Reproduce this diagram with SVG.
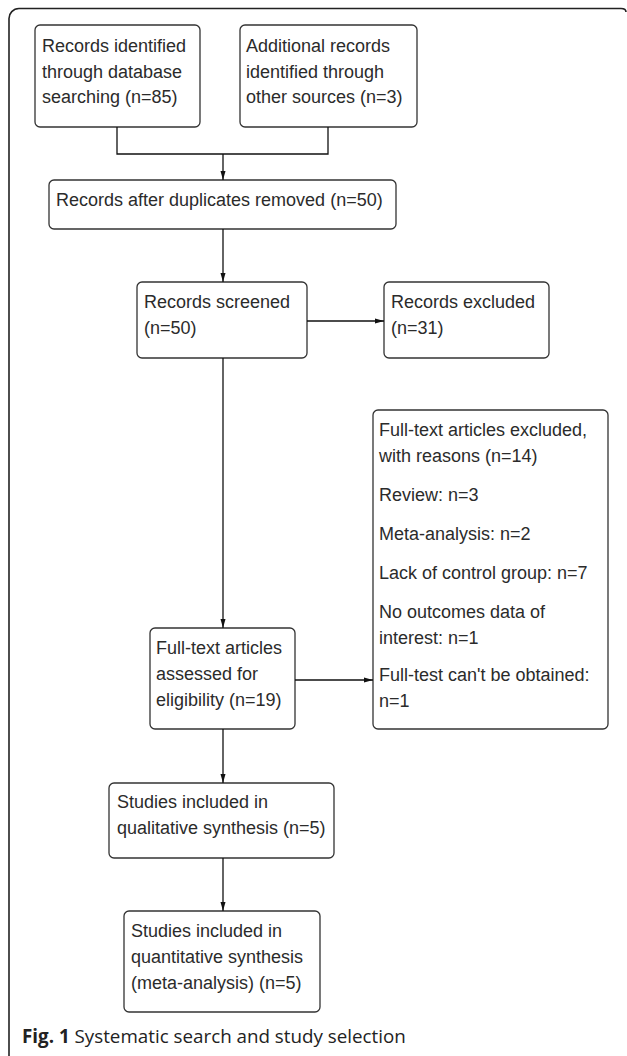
<svg xmlns="http://www.w3.org/2000/svg" width="627" height="1056" viewBox="0 0 627 1056">
<style>
.box{fill:#fff;stroke:#333;stroke-width:1.3}
.t{font-family:"Liberation Sans",Arial,sans-serif;font-size:18px;fill:#2b2b2b}
.ln{fill:none;stroke:#111;stroke-width:1.3}
.frame{fill:none;stroke:#222;stroke-width:1.6}
.cap{font-family:"Open Sans",sans-serif;font-size:18.8px;fill:#222}
</style>
<defs>
<marker id="ah" markerWidth="9" markerHeight="6" refX="9" refY="3" orient="auto" markerUnits="userSpaceOnUse">
<path d="M0,0.5 L9,3 L0,5.5 Z" fill="#111"/>
</marker>
</defs>
<rect width="627" height="1056" fill="#fff"/>
<path class="frame" d="M9,1058 L9,19 A10,10 0 0 1 19,8.5 L621,8.5 Q626,8.5 626,12"/>

<g id="n1"><rect class="box" x="35" y="25" width="165" height="102" rx="5"/>
<text class="t" x="42" y="52">Records identified</text><text class="t" x="42" y="78">through database</text><text class="t" x="42" y="103">searching (n=85)</text></g>
<g id="n2"><rect class="box" x="240" y="25" width="177" height="102" rx="5"/>
<text class="t" x="246" y="52">Additional records</text><text class="t" x="246" y="78">identified through</text><text class="t" x="246" y="103">other sources (n=3)</text></g>
<g id="n3"><rect class="box" x="49" y="180" width="347" height="49" rx="5"/>
<text class="t" x="56" y="206">Records after duplicates removed (n=50)</text></g>
<g id="n4"><rect class="box" x="137" y="282" width="170" height="76" rx="5"/>
<text class="t" x="144" y="308">Records screened</text><text class="t" x="144" y="334">(n=50)</text></g>
<g id="n5"><rect class="box" x="384" y="282" width="165" height="76" rx="5"/>
<text class="t" x="391" y="308">Records excluded</text><text class="t" x="391" y="334">(n=31)</text></g>
<g id="n6"><rect class="box" x="373" y="410" width="235" height="319" rx="5"/>
<text class="t" x="379" y="436">Full-text articles excluded,</text>
<text class="t" x="379" y="462">with reasons (n=14)</text>
<text class="t" x="379" y="501">Review: n=3</text>
<text class="t" x="379" y="540">Meta-analysis: n=2</text>
<text class="t" x="379" y="579">Lack of control group: n=7</text>
<text class="t" x="379" y="618">No outcomes data of</text>
<text class="t" x="379" y="644">interest: n=1</text>
<text class="t" x="379" y="681">Full-test can't be obtained:</text>
<text class="t" x="379" y="707">n=1</text></g>
<g id="n7"><rect class="box" x="150" y="628" width="145" height="101" rx="5"/>
<text class="t" x="156" y="654">Full-text articles</text><text class="t" x="156" y="680">assessed for</text><text class="t" x="156" y="706">eligibility (n=19)</text></g>
<g id="n8"><rect class="box" x="109" y="783" width="225" height="75" rx="5"/>
<text class="t" x="117" y="808">Studies included in</text><text class="t" x="117" y="834">qualitative synthesis (n=5)</text></g>
<g id="n9"><rect class="box" x="124" y="911" width="196" height="101" rx="5"/>
<text class="t" x="131" y="937">Studies included in</text><text class="t" x="131" y="963">quantitative synthesis</text><text class="t" x="131" y="989">(meta-analysis) (n=5)</text></g>

<g id="connectors">
<path class="ln" d="M117,127 V154 H328 V127"/>
<path class="ln" d="M223,154 V180" marker-end="url(#ah)"/>
<path class="ln" d="M223,229 V282" marker-end="url(#ah)"/>
<path class="ln" d="M307,321 H384" marker-end="url(#ah)"/>
<path class="ln" d="M223,358 V628" marker-end="url(#ah)"/>
<path class="ln" d="M295,680 H373" marker-end="url(#ah)"/>
<path class="ln" d="M223,729 V783" marker-end="url(#ah)"/>
<path class="ln" d="M223,858 V911" marker-end="url(#ah)"/>
</g>

<text class="cap" x="22" y="1043"><tspan font-weight="bold">Fig. 1</tspan> Systematic search and study selection</text>
</svg>
